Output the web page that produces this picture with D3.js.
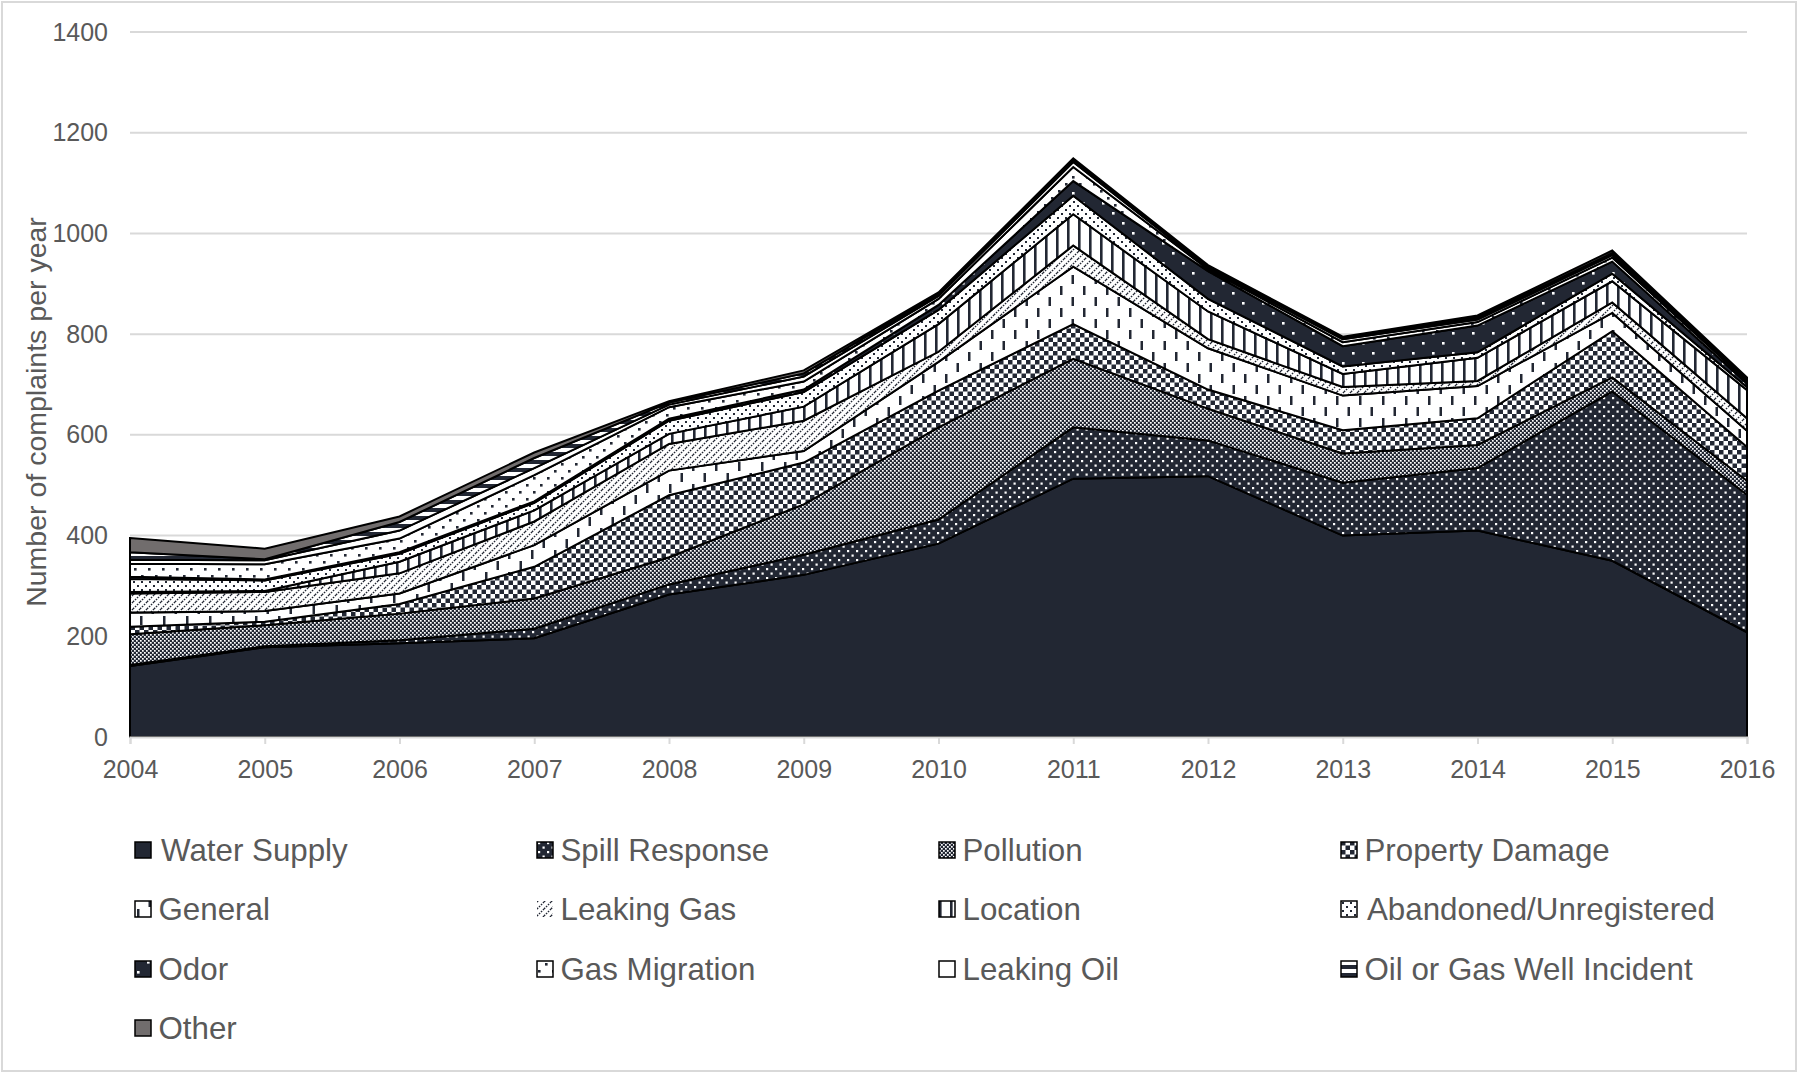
<!DOCTYPE html>
<html><head><meta charset="utf-8">
<script src="https://cdn.jsdelivr.net/npm/d3@7"></script>
<style>html,body{margin:0;padding:0;background:#fff;} svg{display:block;font-family:"Liberation Sans",Arial,sans-serif;}</style>
</head><body>
<svg id="chart" width="1800" height="1074"></svg>
<script>
// ---- data ----
const years = [2004,2005,2006,2007,2008,2009,2010,2011,2012,2013,2014,2015,2016];
const seriesNames = ["Water Supply","Spill Response","Pollution","Property Damage","General","Leaking Gas","Location","Abandoned/Unregistered","Odor","Gas Migration","Leaking Oil","Oil or Gas Well Incident","Other"];
const waterSupply    = [141,178,186,196,283,322,384,513,518,400,410,350,208];
const spillResponse  = [2,2,6,19,20,40,48,102,71,105,124,336,273];
const pollutionVals  = [61,42,53,60,54,100,183,136,63,58,46,28,28];
const propertyDamage = [15,7,19,63,123,83,73,69,38,46,53,92,67];
const generalVals    = [28,21,21,43,49,23,57,114,82,69,64,36,32];
const leakingGas     = [38,38,40,47,53,60,20,42,18,17,10,21,25];
const locationVals   = [3,2,23,22,20,28,55,62,55,26,46,42,56];
const abandonedVals  = [26,21,16,15,26,29,28,37,25,15,11,15,6];
const odorVals       = [4,2,3,3,4,5,10,29,55,40,53,24,7];
const gasMigration   = [26,30,27,52,23,16,12,28,4,8,7,8,5];
const leakingOil     = [8,8,16,14,5,10,6,10,3,6,5,5,2];
const oilGasWell     = [15,2,17,20,4,6,4,4,2,2,4,4,2];
const otherVals      = [28,21,11,11,3,6,3,3,3,3,4,5,3];
const yTicks = [0,200,400,600,800,1000,1200,1400];
const yAxisTitle = "Number of complaints per year";

const seriesValues = [waterSupply,spillResponse,pollutionVals,propertyDamage,generalVals,leakingGas,locationVals,abandonedVals,odorVals,gasMigration,leakingOil,oilGasWell,otherVals];

// ---- setup ----
const svg = d3.select("#chart");
const W = 1800, H = 1074;
const dark = "#222733", textCol = "#595959", gridCol = "#d9d9d9";

svg.append("rect").attr("x",2).attr("y",2).attr("width",W-6).attr("height",H-5)
  .attr("fill","#fff").attr("stroke",gridCol).attr("stroke-width",2);

const x = d3.scaleLinear().domain([2004,2016]).range([130,1747]);
const y = d3.scaleLinear().domain([0,1400]).range([737,32]);

// ---- patterns ----
const defs = svg.append("defs");
function pat(id, w, h, bg, draw){
  const p = defs.append("pattern").attr("id",id).attr("patternUnits","userSpaceOnUse")
    .attr("width",w).attr("height",h);
  p.append("rect").attr("width",w).attr("height",h).attr("fill",bg);
  draw(p);
  return "url(#"+id+")";
}
function sq(p,xx,yy,w,h,c){ p.append("rect").attr("x",xx).attr("y",yy).attr("width",w).attr("height",h).attr("fill",c); }

const fills = [
  dark,
  pat("pSpill",9,9,dark,p=>{sq(p,1,1,2.2,2.2,"#fff");sq(p,5.5,5.5,2.2,2.2,"#fff");}),
  pat("pPoll",4,4,dark,p=>{sq(p,0,0,1.7,1.7,"#fff");sq(p,2,2,1.7,1.7,"#fff");}),
  pat("pProp",9,9,"#fff",p=>{sq(p,0,0,4.5,4.5,dark);sq(p,4.5,4.5,4.5,4.5,dark);}),
  pat("pGen",23,22,"#fff",p=>{sq(p,2,0,2.5,9,dark);sq(p,13.5,11,2.5,9,dark);}),
  pat("pGas",7,7,"#fff",p=>{
    p.append("path").attr("d","M-1,1 L1,-1 M0,7 L7,0 M6,8 L8,6").attr("stroke",dark)
     .attr("stroke-width",1.4).attr("stroke-dasharray","1.6,1.2");}),
  pat("pLoc",11,10,"#fff",p=>{sq(p,0,0,2.6,10,dark);}),
  pat("pAband",8,8,"#fff",p=>{sq(p,1,1,2,2,dark);sq(p,5,5,2,2,dark);}),
  pat("pOdor",20,20,dark,p=>{sq(p,2,2,2.6,2.6,"#fff");sq(p,12,12,2.6,2.6,"#fff");}),
  pat("pGasMig",14,14,"#fff",p=>{sq(p,1,1,2.6,2.6,dark);sq(p,8,8,2.6,2.6,dark);}),
  "#ffffff",
  pat("pOil",8,8,"#fff",p=>{sq(p,0,4,8,4,dark);}),
  "#716d6d"
];

// ---- gridlines ----
svg.append("g").selectAll("line").data(yTicks.filter(d=>d>0)).join("line")
  .attr("x1",130).attr("x2",1747).attr("y1",d=>y(d)).attr("y2",d=>y(d))
  .attr("stroke",gridCol).attr("stroke-width",2);

// ---- stack ----
const rows = years.map((yr,i)=>{ const r={year:yr}; seriesNames.forEach((n,k)=>r[n]=seriesValues[k][i]); return r; });
const stacked = d3.stack().keys(seriesNames)(rows);
const area = d3.area().x(d=>x(d.data.year)).y0(d=>y(d[0])).y1(d=>y(d[1]));

svg.append("g").selectAll("path").data(stacked).join("path")
  .attr("d",area).attr("fill",(d,i)=>fills[i])
  .attr("stroke","#000").attr("stroke-width",2).attr("stroke-linejoin","miter");

// ---- axes ----
const xAxis = svg.append("g").attr("transform","translate(0,737)")
  .call(d3.axisBottom(x).tickValues(years).tickFormat(d3.format("d")).tickSize(7).tickPadding(16));
xAxis.select(".domain").attr("stroke",gridCol).attr("stroke-width",2);
xAxis.selectAll(".tick line").attr("stroke",gridCol).attr("stroke-width",2);
xAxis.selectAll("text").attr("fill",textCol).style("font-size","25px").style("font-family","Liberation Sans, Arial, sans-serif");

const yAxis = svg.append("g").attr("transform","translate(130,0)")
  .call(d3.axisLeft(y).tickValues(yTicks).tickFormat(d3.format("d")).tickSize(0).tickPadding(22));
yAxis.select(".domain").remove();
yAxis.selectAll("text").attr("fill",textCol).style("font-size","25px").style("font-family","Liberation Sans, Arial, sans-serif");

svg.append("text").attr("transform","translate(46,412) rotate(-90)")
  .attr("text-anchor","middle").attr("fill",textCol).style("font-size","28.5px")
  .text(yAxisTitle);

// ---- legend ----
const colX = [135,537,939,1341], rowY = [850,909,969,1028];
const lg = svg.append("g").selectAll("g").data(seriesNames).join("g")
  .attr("transform",(d,i)=>`translate(${colX[i%4]},${rowY[Math.floor(i/4)]})`);
lg.append("rect").attr("x",0).attr("y",-8).attr("width",16).attr("height",16)
  .attr("fill",(d,i)=>fills[i]).attr("stroke",(d,i)=>i===5?"none":"#000").attr("stroke-width",1.5);
lg.append("text").attr("x",(d,i)=>(i===0||i===7)?26:23.5).attr("y",11)
  .attr("fill",textCol).style("font-size","31.3px").text(d=>d);
</script>
</body></html>
